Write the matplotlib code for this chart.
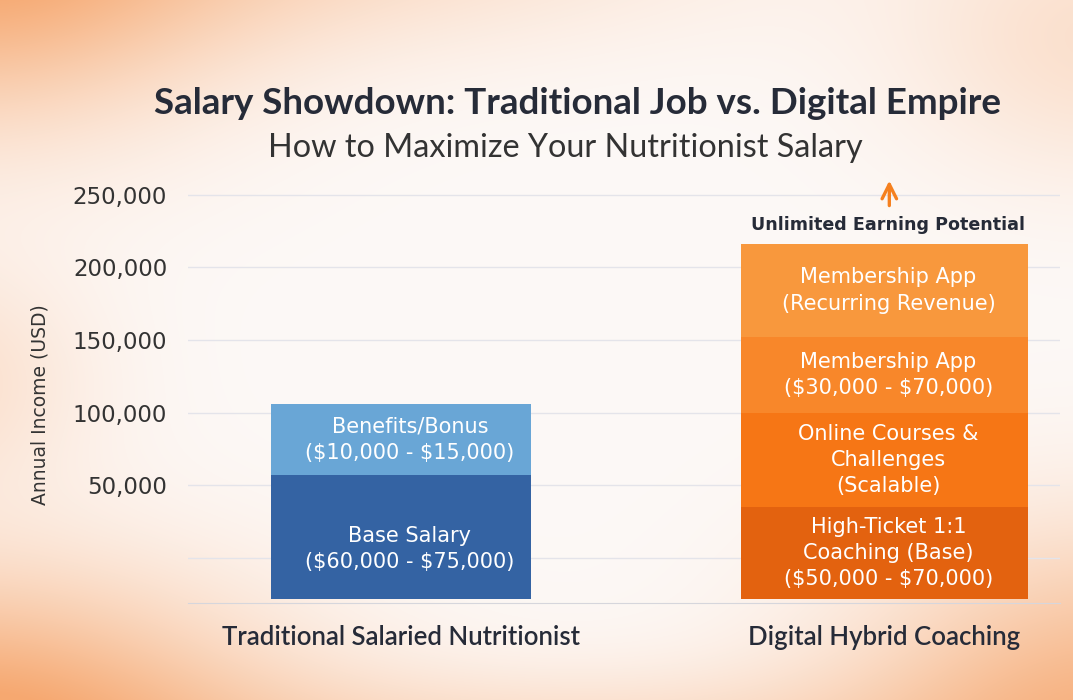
import numpy as np
import matplotlib
matplotlib.use('Agg')
import matplotlib.pyplot as plt

plt.rcParams['text.parse_math'] = False

# ---- data ----
categories = ['Traditional Salaried Nutritionist', 'Digital Hybrid Coaching']

trad_labels = ['Base Salary\n($60,000 - $75,000)',
               'Benefits/Bonus\n($10,000 - $15,000)']
trad_tops = [57000, 106000]

digital_labels = ['High-Ticket 1:1\nCoaching (Base)\n($50,000 - $70,000)',
                  'Online Courses &\nChallenges\n(Scalable)',
                  'Membership App\n($30,000 - $70,000)',
                  'Membership App\n(Recurring Revenue)']
digital_tops = [35000, 100000, 152000, 216000]

y_ticks = [0, 50000, 100000, 150000, 200000, 250000]
y_tick_labels = ['', '50,000', '100,000', '150,000', '200,000', '250,000']

# ---- styling ----
BAR_BASE = -28000
trad_colors = ['#3463a3', '#69a6d6']
digital_colors = ['#e3620f', '#f67615', '#f8872a', '#f8983d']
label_offsets = {0: -12}  # pixel nudges for the traditional labels

DARK = '#262b38'
W, H = 1073, 700


def background():
    yy, xx = np.mgrid[0:H, 0:W].astype(float)
    base = np.array([253, 249, 247]) / 255.0
    peach = np.array([246, 168, 112]) / 255.0
    img = np.ones((H, W, 3)) * base
    blobs = [  # (cx, cy, rx, ry, strength)
        (-40, -40, 260, 170, 0.85),
        (300, -60, 420, 110, 0.35),
        (-60, 380, 150, 120, 0.30),
        (-40, 720, 300, 150, 0.95),
        (1110, 700, 260, 170, 0.75),
        (1100, 40, 200, 140, 0.30),
        (560, 740, 600, 70, 0.35),
    ]
    a = np.zeros((H, W))
    for cx, cy, rx, ry, s in blobs:
        a += s * np.exp(-(((xx - cx) / rx) ** 2 + ((yy - cy) / ry) ** 2))
    a = np.clip(a, 0, 1)[..., None]
    return img * (1 - a) + peach * a


fig = plt.figure(figsize=(W / 100, H / 100), dpi=100)
bg = fig.add_axes([0, 0, 1, 1])
bg.imshow(background(), aspect='auto', extent=[0, 1, 0, 1])
bg.axis('off')

ax = fig.add_axes([188 / W, 1 - 603 / H, 872 / W, 423 / H])
ax.patch.set_alpha(0)

x = [0, 1]
widths = [0.536, 0.594]

# stacked bars from the segment tops
prev = BAR_BASE
for i, (top, lab, col) in enumerate(zip(trad_tops, trad_labels, trad_colors)):
    ax.bar(x[0], top - prev, bottom=prev, width=widths[0], color=col, zorder=3)
    ax.annotate(lab, (x[0], (top + prev) / 2), xytext=(9, label_offsets.get(i, 0)),
                textcoords='offset pixels', ha='center', va='center',
                color='white', fontsize=15, linespacing=1.38, zorder=4)
    prev = top

prev = BAR_BASE
for top, lab, col in zip(digital_tops, digital_labels, digital_colors):
    ax.bar(x[1], top - prev, bottom=prev, width=widths[1], color=col, zorder=3)
    ax.annotate(lab, (x[1], (top + prev) / 2), xytext=(4, 0),
                textcoords='offset pixels', ha='center', va='center',
                color='white', fontsize=15, linespacing=1.38, zorder=4)
    prev = top

# unlimited potential marker
ax.annotate('', xy=(1.01, 261500), xytext=(1.01, 240500), annotation_clip=False,
            arrowprops=dict(arrowstyle='->', color='#f5801f', lw=2.4,
                            mutation_scale=26))
ax.text(1.007, 229000, 'Unlimited Earning Potential', ha='center', va='center',
        fontsize=12.6, fontweight='bold', color=DARK)

ax.set_xlim(-0.4405, 1.363)
ax.set_ylim(-31000, 260000)
ax.set_yticks(y_ticks)
ax.set_yticklabels(y_tick_labels)
ax.set_xticks(x)
ax.set_xticklabels(categories, fontfamily='Lato', fontsize=18.5, fontweight='semibold',
                   color=DARK)
ax.tick_params(axis='y', length=0, pad=15, labelsize=16.5, labelcolor='#333333')
ax.tick_params(axis='x', length=0, pad=16)
ax.grid(axis='y', color='#e4e4ea', lw=1, zorder=0)
for s in ['top', 'right', 'left']:
    ax.spines[s].set_visible(False)
ax.spines['bottom'].set_color('#d6d6dc')

fig.text(30 / W, 1 - 405 / H, 'Annual Income (USD)', rotation=90, ha='left', va='center',
         fontsize=13.5, color='#333333', family=['Liberation Sans Narrow', 'DejaVu Sans'])

fig.text(578 / W, 1 - 103 / H, 'Salary Showdown: Traditional Job vs. Digital Empire',
         ha='center', va='center', fontsize=26.5, fontweight='bold', color=DARK,
         family='Lato')
fig.text(565 / W, 1 - 148 / H, 'How to Maximize Your Nutritionist Salary',
         ha='center', va='center', fontsize=23.3, fontweight='normal', color='#333333',
         family='Lato')

fig.savefig('out.png', dpi=100)
